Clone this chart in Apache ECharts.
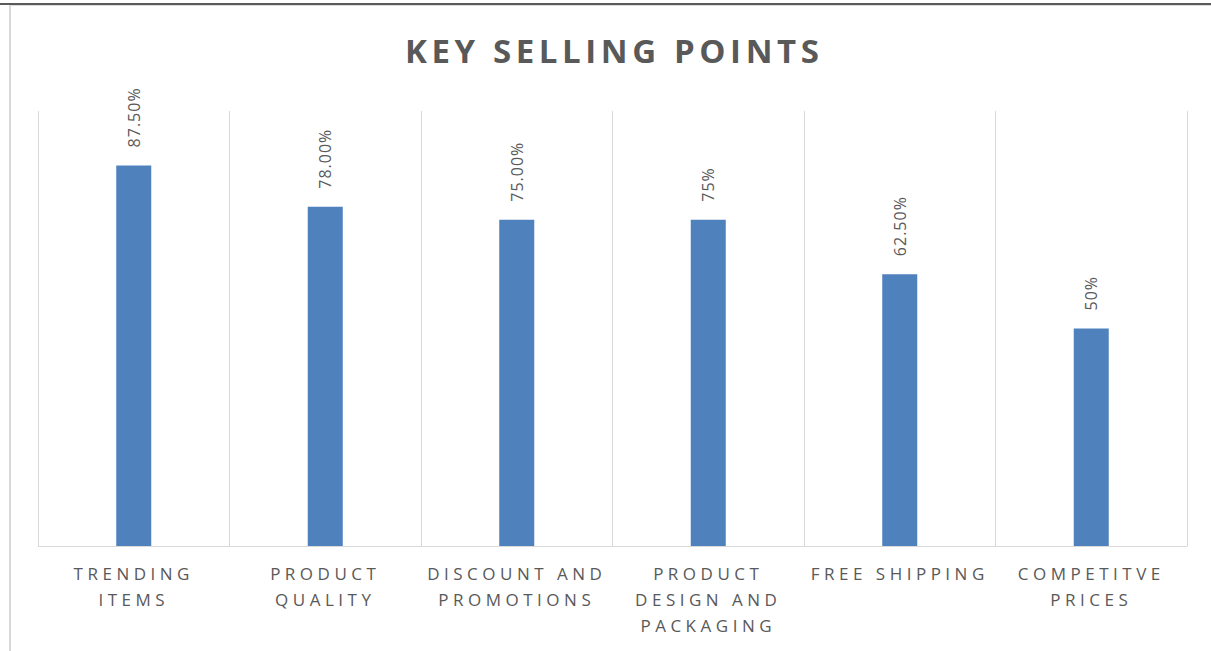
<!DOCTYPE html>
<html>
<head>
<meta charset="utf-8">
<script src="https://cdn.jsdelivr.net/npm/echarts@6/dist/echarts.min.js"></script>
<style>
  html, body { margin: 0; padding: 0; background: #fff; }
  #chart { position: absolute; left: 0; top: 0; width: 1211px; height: 651px; }
  .topline { position: absolute; left: 0; top: 3px; width: 1211px; height: 2px; background: #5a5a5a; }
  .topline2 { position: absolute; left: 10px; top: 5px; width: 1201px; height: 1px; background: #dcdcdc; }
  .leftline { position: absolute; left: 9px; top: 5px; width: 2px; height: 646px; background: #d9d9d9; }
</style>
</head>
<body>
<div id="chart"></div>
<div class="topline"></div>
<div class="topline2"></div>
<div class="leftline"></div>
<script>
const titleText = 'KEY SELLING POINTS';
const categories = [
  'TRENDING\nITEMS',
  'PRODUCT\nQUALITY',
  'DISCOUNT AND\nPROMOTIONS',
  'PRODUCT\nDESIGN AND\nPACKAGING',
  'FREE SHIPPING',
  'COMPETITVE\nPRICES'
];
const values = [87.5, 78, 75, 75, 62.5, 50];
const valueLabels = ['87.50%', '78.00%', '75.00%', '75%', '62.50%', '50%'];

const textColor = '#595959';
const chart = echarts.init(document.getElementById('chart'), null, { renderer: 'svg' });
chart.setOption({
  animation: false,
  backgroundColor: 'transparent',
  title: {
    text: titleText,
    left: 400,
    top: 29,
    textStyle: { fontFamily: 'Open Sans', fontWeight: 'bold', fontSize: 33, color: textColor }
  },
  grid: { left: 38, right: 24, top: 111, bottom: 105, containLabel: false },
  xAxis: {
    type: 'category',
    data: categories,
    axisLine: { show: true, lineStyle: { color: '#d9d9d9', width: 1 } },
    axisTick: { show: false },
    splitLine: { show: true, lineStyle: { color: '#d9d9d9', width: 1 } },
    axisLabel: {
      interval: 0,
      color: textColor,
      fontFamily: 'Open Sans',
      fontSize: 17,
      lineHeight: 26,
      margin: 14
    }
  },
  yAxis: { type: 'value', min: 0, max: 100, show: false },
  series: [{
    type: 'bar',
    data: values,
    barWidth: 35,
    itemStyle: { color: '#4F81BD' },
    label: {
      show: true,
      position: 'top',
      rotate: 90,
      align: 'left',
      verticalAlign: 'middle',
      distance: 18,
      color: textColor,
      fontFamily: 'Open Sans',
      fontSize: 16,
      formatter: p => valueLabels[p.dataIndex]
    }
  }]
});

function applySpacing() {
  const catLines = new Set();
  categories.forEach(c => c.split('\n').forEach(l => catLines.add(l)));
  const vals = new Set(valueLabels);
  document.querySelectorAll('#chart svg text').forEach(t => {
    const s = t.textContent;
    if (s === titleText) t.style.letterSpacing = '4.6px';
    else if (catLines.has(s)) t.style.letterSpacing = '4.5px';
    else if (vals.has(s)) t.style.letterSpacing = '1px';
  });
}
applySpacing();
chart.on('finished', applySpacing);
</script>
</body>
</html>
